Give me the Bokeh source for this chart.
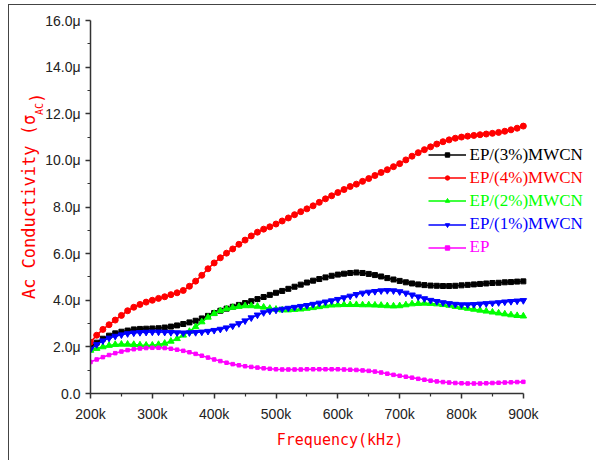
from bokeh.plotting import figure
from bokeh.models import (Range1d, FixedTicker, Label, Legend, LegendItem)
from bokeh.embed import file_html
from bokeh.resources import INLINE
import math

# Frequency in kHz
freq = [200, 210, 220, 230, 240, 250, 260, 270, 280, 290,
        300, 310, 320, 330, 340, 350, 360, 370, 380, 390,
        400, 410, 420, 430, 440, 450, 460, 470, 480, 490,
        500, 510, 520, 530, 540, 550, 560, 570, 580, 590,
        600, 610, 620, 630, 640, 650, 660, 670, 680, 690,
        700, 710, 720, 730, 740, 750, 760, 770, 780, 790,
        800, 810, 820, 830, 840, 850, 860, 870, 880, 890, 900]

# AC conductivity in micro units
ep3 = [2.0, 2.18, 2.35, 2.48, 2.58, 2.65, 2.7, 2.75, 2.77, 2.78,
       2.79, 2.8, 2.83, 2.87, 2.92, 2.98, 3.05, 3.12, 3.22, 3.33,
       3.45, 3.55, 3.64, 3.72, 3.8, 3.88, 3.96, 4.05, 4.14, 4.23,
       4.32, 4.4, 4.49, 4.58, 4.67, 4.76, 4.84, 4.91, 4.98, 5.05,
       5.1, 5.14, 5.17, 5.19, 5.17, 5.13, 5.08, 5.02, 4.95, 4.89,
       4.83, 4.77, 4.72, 4.68, 4.65, 4.63, 4.62, 4.61, 4.61, 4.62,
       4.64, 4.66, 4.68, 4.7, 4.72, 4.74, 4.75, 4.77, 4.78, 4.8, 4.81]

ep4 = [2.2, 2.5, 2.75, 2.95, 3.15, 3.35, 3.55, 3.7, 3.82, 3.92,
       4.0, 4.08, 4.15, 4.24, 4.32, 4.42, 4.6, 4.82, 5.07, 5.35,
       5.6, 5.82, 6.02, 6.2, 6.4, 6.58, 6.76, 6.92, 7.05, 7.15,
       7.27, 7.4, 7.53, 7.67, 7.8, 7.92, 8.05, 8.2, 8.35, 8.48,
       8.62, 8.75, 8.88, 8.98, 9.1, 9.22, 9.35, 9.48, 9.6, 9.73,
       9.86, 10.02, 10.18, 10.33, 10.46, 10.58, 10.7, 10.8, 10.88, 10.95,
       11.0, 11.04, 11.07, 11.1, 11.13, 11.16, 11.2, 11.25, 11.31, 11.38, 11.47]

ep2 = [1.85, 1.93, 2.0, 2.06, 2.1, 2.11, 2.11, 2.1, 2.08, 2.07,
       2.07, 2.1, 2.15, 2.24, 2.35, 2.5, 2.66, 2.86, 3.07, 3.27,
       3.43, 3.55, 3.63, 3.69, 3.73, 3.76, 3.76, 3.74, 3.7, 3.65,
       3.61, 3.58, 3.58, 3.6, 3.62, 3.65, 3.68, 3.72, 3.76, 3.79,
       3.8, 3.81, 3.81, 3.81, 3.8, 3.8, 3.79, 3.78, 3.76, 3.75,
       3.76, 3.8, 3.84, 3.86, 3.87, 3.86, 3.84, 3.81, 3.78, 3.73,
       3.69, 3.65, 3.61, 3.57, 3.53, 3.49, 3.45, 3.41, 3.37, 3.34, 3.32]

ep1 = [1.9, 2.1, 2.26, 2.38, 2.46, 2.52, 2.57, 2.6, 2.62, 2.63,
       2.64, 2.64, 2.63, 2.62, 2.61, 2.6, 2.61, 2.62, 2.64, 2.67,
       2.71, 2.76, 2.82, 2.9, 3.0, 3.12, 3.25, 3.37, 3.47, 3.54,
       3.58, 3.62, 3.66, 3.7, 3.74, 3.78, 3.83, 3.88, 3.93, 3.98,
       4.04, 4.11, 4.18, 4.25, 4.31, 4.35, 4.38, 4.41, 4.42, 4.41,
       4.37, 4.31, 4.23, 4.15, 4.07, 4.0, 3.95, 3.9, 3.86, 3.83,
       3.81, 3.81, 3.82, 3.84, 3.86, 3.88, 3.9, 3.93, 3.95, 3.97, 3.99]

ep0 = [1.35, 1.46, 1.56, 1.65, 1.73, 1.8, 1.86, 1.9, 1.93, 1.95,
       1.96, 1.96, 1.95, 1.92, 1.88, 1.83, 1.77, 1.7, 1.62, 1.54,
       1.46, 1.39, 1.32, 1.26, 1.21, 1.17, 1.14, 1.11, 1.08, 1.06,
       1.04, 1.03, 1.03, 1.03, 1.03, 1.04, 1.04, 1.04, 1.04, 1.04,
       1.04, 1.03, 1.02, 1.01, 0.99, 0.97, 0.94, 0.9, 0.85, 0.8,
       0.76, 0.72, 0.68, 0.63, 0.59, 0.55, 0.52, 0.49, 0.47, 0.45,
       0.44, 0.43, 0.43, 0.43, 0.44, 0.45, 0.46, 0.47, 0.48, 0.49, 0.5]

series_labels = ["EP/(3%)MWCN", "EP/(4%)MWCN", "EP/(2%)MWCN", "EP/(1%)MWCN", "EP"]
series_values = [ep3, ep4, ep2, ep1, ep0]

x_ticks = [200, 300, 400, 500, 600, 700, 800, 900]
x_tick_labels = ["200k", "300k", "400k", "500k", "600k", "700k", "800k", "900k"]
y_ticks = [0, 2, 4, 6, 8, 10, 12, 14, 16]
y_tick_labels = ["0.0", "2.0μ", "4.0μ", "6.0μ", "8.0μ", "10.0μ", "12.0μ", "14.0μ", "16.0μ"]

colors = ["#000000", "#ff0000", "#00ff00", "#0000ff", "#ff00ff"]
markers = ["square", "circle", "triangle", "inverted_triangle", "square"]
msizes = [5, 6, 6.5, 6.5, 3.5]

FL, FB = 90.5, 393.5      # frame left / bottom in page px
PXX = 499 / 807           # px per kHz
PXY = 373 / 16            # px per micro unit

def xdata(px):
    return 200 + (px - FL) / PXX

def ydata(py):
    return (FB - py) / PXY

p = figure(width=588, height=456, output_backend="svg", toolbar_location=None,
           x_range=Range1d(200, 1007), y_range=Range1d(0, 16),
           min_border_left=81, min_border_right=8, min_border_top=15, min_border_bottom=68)
p.styles = {"margin-left": "8px", "margin-top": "4px",
            "border-left": "1.5px solid #444444", "border-top": "1.5px solid #444444"}
p.outline_line_color = None
p.grid.visible = False
p.background_fill_color = "white"
p.border_fill_color = "white"

for ax in (p.xaxis[0], p.yaxis[0]):
    ax.axis_line_color = "#333333"
    ax.axis_line_width = 1.5
    ax.major_tick_line_color = "#333333"
    ax.minor_tick_line_color = "#333333"
    ax.major_tick_line_width = 1.5
    ax.minor_tick_line_width = 1.2
    ax.major_tick_out = 5
    ax.major_tick_in = 0
    ax.minor_tick_out = 3
    ax.minor_tick_in = 0
    ax.major_label_text_font = "Liberation Sans"
    ax.major_label_text_font_size = "14px"
    ax.major_label_text_color = "#222222"

p.xaxis.bounds = (200, 900)
p.yaxis.bounds = (0, 16)
p.xaxis.ticker = FixedTicker(ticks=x_ticks, minor_ticks=[250, 350, 450, 550, 650, 750, 850])
p.yaxis.ticker = FixedTicker(ticks=y_ticks, minor_ticks=[1, 3, 5, 7, 9, 11, 13, 15])
p.xaxis.major_label_overrides = {t: l for t, l in zip(x_ticks, x_tick_labels)}
p.yaxis.major_label_overrides = {t: l for t, l in zip(y_ticks, y_tick_labels)}
p.xaxis.major_label_standoff = 7
p.yaxis.major_label_standoff = 5

p.xaxis.axis_label = "Frequency(kHz)"
p.xaxis.axis_label_text_font = "DejaVu Sans Mono"
p.xaxis.axis_label_text_font_size = "15px"
p.xaxis.axis_label_text_font_style = "normal"
p.xaxis.axis_label_text_color = "#ff0000"
p.xaxis.axis_label_standoff = 6

p.yaxis.axis_label = "Ac Conductivity (σ"
p.yaxis.axis_label_text_font = "DejaVu Sans Mono"
p.yaxis.axis_label_text_font_size = "17px"
p.yaxis.axis_label_text_font_style = "normal"
p.yaxis.axis_label_text_color = "#ff0000"
p.yaxis.axis_label_standoff = 3

renderers = []
for vals, c, m, s in zip(series_values, colors, markers, msizes):
    lr = p.line(freq, vals, line_color=c, line_width=1.6)
    sr = p.scatter(freq, vals, marker=m, size=s, fill_color=c, line_color=c)
    renderers.append((lr, sr))

# legends (one per series so each label keeps its own colour)
rows = [155, 178.2, 201.4, 224.6, 247.8]
for (lr, sr), lab, c, yc in zip(renderers, series_labels, colors, rows):
    lg = Legend(items=[LegendItem(label=lab, renderers=[lr, sr])],
                location=(428 - FL, FB - (yc + 10)),
                padding=0, margin=0, spacing=0,
                background_fill_alpha=0, border_line_color=None,
                label_text_font="Liberation Serif", label_text_font_size="17px",
                label_text_color=c, glyph_width=38, glyph_height=11,
                label_height=20, label_standoff=4)
    p.add_layout(lg)

# subscript and closing bracket of the y title (side panels are not clipped)
ysub = Label(x=xdata(39.5), y=ydata(114.9), text="AC", angle=math.pi / 2,
             text_font="DejaVu Sans Mono", text_font_size="10px",
             text_color="#ff0000", text_align="left", text_baseline="alphabetic")
yend = Label(x=xdata(36.5), y=ydata(102.9), text=")", angle=math.pi / 2,
             text_font="DejaVu Sans Mono", text_font_size="17px",
             text_color="#ff0000", text_align="left", text_baseline="alphabetic")
p.add_layout(ysub, "above")
p.add_layout(yend, "below")

open("out.html", "w").write(file_html(p, INLINE))
